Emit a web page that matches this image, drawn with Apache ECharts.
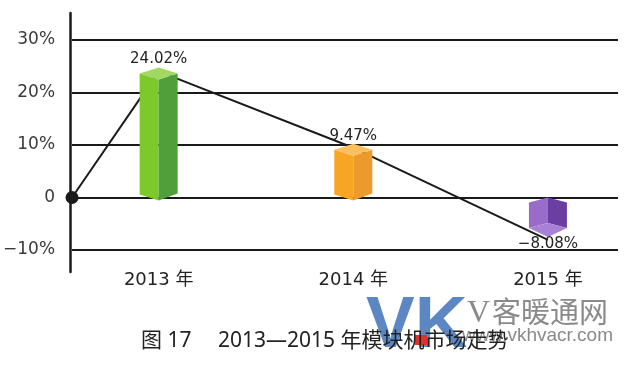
<!DOCTYPE html>
<html><head><meta charset="utf-8">
<script src="https://cdn.jsdelivr.net/npm/echarts@6/dist/echarts.min.js"></script>
<style>html,body{margin:0;padding:0;background:#fff}#c{width:633px;height:367px}</style>
</head><body><div id="c"></div>
<script>
// ---- data ----
const categories = ['2013 年', '2014 年', '2015 年'];
const growth = [24.02, 9.47, -8.08];
const yTicks = [-10, 0, 10, 20, 30];
const titleText = '图 17\u3000 2013—2015 年模块机市场走势';

// ---- layout / style ----
const XMIN = -0.445, XMAX = 2.36;
const FONT = '"DejaVu Sans", "Noto Sans CJK SC", sans-serif';
const TFONT = '"Noto Sans", "Noto Sans CJK SC", sans-serif';
const palette = [
  { front: '#7dc82b', side: '#4f9f3b', top: '#a0d862' },
  { front: '#f7a624', side: '#ec9a2b', top: '#fbbf5e' },
  { front: '#9a6cc9', side: '#6a3ea3', top: '#a880d6' }
];
function fmtPct(v) { return (v < 0 ? '−' : '') + Math.abs(v).toFixed(2) + '%'; }

function renderBox(params, api) {
  const i = api.value(0), v = api.value(1);
  const c = palette[params.dataIndex];
  const p0 = api.coord([i, 0]), pv = api.coord([i, v]);
  const cx = p0[0], y0 = p0[1], yv = pv[1];
  const w = 19, d = 6;
  const poly = (pts, fill) => ({ type: 'polygon', shape: { points: pts }, style: { fill: fill } });
  let children, ly, lbl = fmtPct(v);
  if (v >= 0) {
    const L = yv + 2;
    children = [
      poly([[cx - w, y0 - 3], [cx, y0 + 3], [cx, L + d], [cx - w, L]], c.front),
      poly([[cx, y0 + 3], [cx + w, y0 - 4], [cx + w, L], [cx, L + d]], c.side),
      poly([[cx - w, L], [cx, L - d], [cx + w, L], [cx, L + d]], c.top)
    ];
    ly = yv - 12;
  } else {
    const F = yv - 3;
    children = [
      poly([[cx - w, y0 + 5], [cx, y0], [cx, F - 14], [cx - w, F - 9]], c.front),
      poly([[cx, y0], [cx + w, y0 + 5], [cx + w, F - 9], [cx, F - 14]], c.side),
      poly([[cx - w, F - 9], [cx, F - 14], [cx + w, F - 9], [cx, F]], c.top)
    ];
    ly = yv + 4;
  }
  children.push({
    type: 'text',
    style: { text: lbl, x: cx, y: ly, align: 'center', verticalAlign: 'middle',
      fontSize: 15, fontFamily: FONT, fill: '#222' }
  });
  return { type: 'group', children: children };
}

const lineData = [[XMIN, 0]].concat(growth.map((v, i) => [i, v]));

const chart = echarts.init(document.getElementById('c'));
chart.setOption({
  backgroundColor: '#fff',
  animation: false,
  grid: [
    { left: 70, right: 15, top: 40, bottom: 117 },
    { left: 70, right: 15, top: 13, bottom: 95 }
  ],
  xAxis: [
    { gridIndex: 0, type: 'value', min: XMIN, max: XMAX,
      axisLine: { show: false }, axisTick: { show: false }, splitLine: { show: false },
      axisLabel: { customValues: [0, 1, 2], margin: 21, fontSize: 18, color: '#222', fontFamily: FONT,
        formatter: v => categories[Math.round(v)] } },
    { gridIndex: 1, type: 'value', min: 0, max: 1, show: false }
  ],
  yAxis: [
    { gridIndex: 0, type: 'value', min: yTicks[0], max: yTicks[yTicks.length - 1], interval: 10,
      axisLine: { show: false }, axisTick: { show: false },
      splitLine: { show: true, lineStyle: { color: '#1a1a1a', width: 2 } },
      axisLabel: { margin: 17, fontSize: 17, color: '#3a3a3a', fontFamily: FONT,
        formatter: v => v === 0 ? '0' : (v < 0 ? '−' + Math.abs(v) : v) + '%' } },
    { gridIndex: 1, type: 'value', min: 0, max: 1,
      axisLine: { show: true, onZero: false, lineStyle: { color: '#1a1a1a', width: 2.5 } },
      axisTick: { show: false }, axisLabel: { show: false }, splitLine: { show: false } }
  ],
  title: {
    text: titleText, left: 136, top: 326,
    textStyle: { fontSize: 21, fontWeight: 'normal', color: '#222', fontFamily: TFONT }
  },
  graphic: [
    { type: 'text', left: 366, top: 290, z: -1,
      style: { text: 'VK', font: 'bold 73px "Liberation Sans", Arial, sans-serif', fill: '#5c87c2' } },
    { type: 'text', left: 467, top: 298, z: -1,
      style: { text: 'V', font: '32px "Liberation Serif", serif', fill: '#8a8a8a' } },
    { type: 'text', left: 492, top: 297, z: -1,
      style: { text: '客暖通网', font: '29px "Noto Sans CJK SC", sans-serif', fill: '#8a8a8a' } },
    { type: 'text', right: 20, top: 326, z: -1,
      style: { text: 'www.vkhvacr.com', font: '19px "Liberation Sans", Arial, sans-serif', fill: '#8a8a8a' } },
    { type: 'rect', left: 415, top: 335, z: -1, shape: { width: 12, height: 10 }, style: { fill: '#e0302c' } }
  ],
  series: [
    { type: 'line', xAxisIndex: 0, yAxisIndex: 0, z: 2, clip: false,
      data: lineData.map((p, k) => k === 0
        ? { value: p, symbol: 'circle', symbolSize: 13, itemStyle: { color: '#1a1a1a' } }
        : { value: p, symbol: 'none' }),
      lineStyle: { color: '#1a1a1a', width: 2 }, itemStyle: { color: '#1a1a1a' } },
    { type: 'custom', xAxisIndex: 0, yAxisIndex: 0, z: 3, clip: false,
      data: growth.map((v, i) => [i, v]), renderItem: renderBox }
  ]
});
</script></body></html>
